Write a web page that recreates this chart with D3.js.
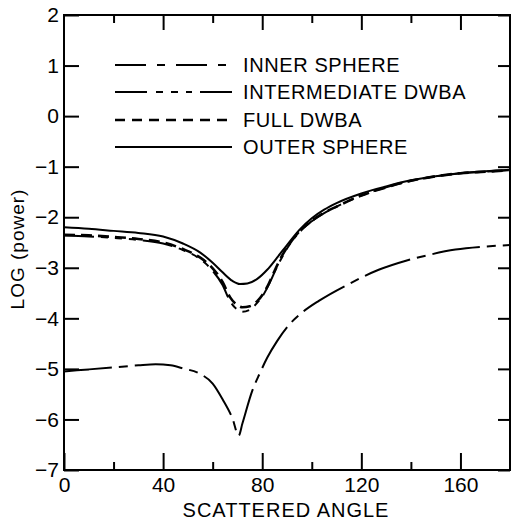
<!DOCTYPE html>
<html>
<head>
<meta charset="utf-8">
<script src="https://cdn.jsdelivr.net/npm/d3@7"></script>
<style>
  body { margin: 0; background: #fff; }
  svg { display: block; font-family: "Liberation Sans", Arial, sans-serif; }
</style>
</head>
<body>
<svg></svg>
<script>
// values
const outerAngle = [0, 10, 20, 30, 40, 48, 55, 60, 64, 68, 71, 74, 78, 82, 86, 90, 95, 100, 105, 110, 120, 130, 140, 150, 160, 170, 180]
const outerLog   = [-2.20, -2.23, -2.27, -2.31, -2.38, -2.52, -2.70, -2.90, -3.09, -3.26, -3.32, -3.31, -3.22, -3.04, -2.80, -2.55, -2.25, -2.02, -1.85, -1.72, -1.53, -1.39, -1.27, -1.19, -1.13, -1.09, -1.06]

const fullAngle = [0, 10, 20, 30, 40, 48, 55, 60, 64, 67, 70, 72, 75, 78, 82, 85, 88, 92, 96, 100, 105, 110, 120, 130, 140, 150, 160, 170, 180]
const fullLog   = [-2.35, -2.36, -2.39, -2.43, -2.50, -2.63, -2.80, -3.01, -3.28, -3.58, -3.74, -3.78, -3.76, -3.66, -3.38, -3.06, -2.76, -2.46, -2.24, -2.07, -1.91, -1.79, -1.57, -1.41, -1.28, -1.19, -1.13, -1.10, -1.07]

const interAngle = [0, 10, 20, 30, 40, 48, 55, 60, 64, 67, 70, 72, 75, 78, 80, 83, 86, 90, 95, 100, 105, 110, 120, 130, 140, 150, 160, 170, 180]
const interLog   = [-2.36, -2.38, -2.41, -2.45, -2.52, -2.65, -2.83, -3.06, -3.34, -3.66, -3.83, -3.87, -3.83, -3.69, -3.57, -3.30, -2.98, -2.62, -2.29, -2.08, -1.92, -1.79, -1.57, -1.41, -1.28, -1.19, -1.13, -1.10, -1.07]

const innerAngle = [0, 10, 20, 30, 37, 43, 48, 55, 60, 64, 68, 70.5, 72, 76, 79, 82, 86, 91, 96, 103, 115, 127, 138, 146, 158, 170, 180]
const innerLog   = [-5.05, -5.01, -4.97, -4.93, -4.91, -4.93, -4.99, -5.10, -5.29, -5.60, -5.98, -6.32, -6.08, -5.43, -5.09, -4.78, -4.45, -4.12, -3.89, -3.65, -3.32, -3.04, -2.86, -2.76, -2.64, -2.58, -2.55]

const legendLabels = ["INNER SPHERE", "INTERMEDIATE DWBA", "FULL DWBA", "OUTER SPHERE"]

const xMajor = [0, 40, 80, 120, 160]
const xMinor = [20, 60, 100, 140]
const yTicks = [2, 1, 0, -1, -2, -3, -4, -5, -6, -7]

let width = 512
let height = 523
let margin = {top: 15, right: 2, bottom: 53, left: 64}

let svg = d3.select("svg").attr("width", width).attr("height", height)

let xScale = d3.scaleLinear().domain([0, 180]).range([margin.left, width - margin.right])
let yScale = d3.scaleLinear().domain([-7, 2]).range([height - margin.bottom, margin.top])

const fmt = d => d < 0 ? "\u2212" + Math.abs(d) : String(d)

// axes, ticks all point inward
const drawAxes = () => {
    svg.append("g")
        .attr("transform", "translate(0," + yScale(-7) + ")")
        .call(d3.axisBottom(xScale).tickValues(xMajor).tickSizeInner(-17).tickSizeOuter(0).tickPadding(7).tickFormat(d => d))
    svg.append("g")
        .attr("transform", "translate(0," + yScale(-7) + ")")
        .call(d3.axisBottom(xScale).tickValues(xMinor).tickSizeInner(-8).tickSizeOuter(0).tickFormat(""))

    svg.append("g")
        .attr("transform", "translate(0," + yScale(2) + ")")
        .call(d3.axisTop(xScale).tickValues(xMajor.slice(1)).tickSizeInner(-15).tickSizeOuter(0).tickFormat(""))
    svg.append("g")
        .attr("transform", "translate(0," + yScale(2) + ")")
        .call(d3.axisTop(xScale).tickValues(xMinor).tickSizeInner(-8).tickSizeOuter(0).tickFormat(""))

    svg.append("g")
        .attr("transform", "translate(" + xScale(0) + ",0)")
        .call(d3.axisLeft(yScale).tickValues(yTicks).tickSizeInner(-15).tickSizeOuter(0).tickPadding(5).tickFormat(fmt))

    svg.append("g")
        .attr("transform", "translate(" + xScale(180) + ",0)")
        .call(d3.axisRight(yScale).tickValues(yTicks).tickSizeInner(-12).tickSizeOuter(0).tickFormat(""))

    svg.selectAll(".domain").remove()
    svg.selectAll(".tick line").attr("stroke", "#000").attr("stroke-width", 2)
    svg.selectAll(".tick text")
        .attr("fill", "#000")
        .style("font-size", "21px")
        .style("font-family", "'Liberation Sans', Arial, sans-serif")

    // frame
    svg.append("rect")
        .attr("x", xScale(0))
        .attr("y", yScale(2))
        .attr("width", xScale(180) - xScale(0))
        .attr("height", yScale(-7) - yScale(2))
        .attr("fill", "none")
        .attr("stroke", "#000")
        .attr("stroke-width", 2)

    svg.append("text")
        .attr("x", 286)
        .attr("y", 517)
        .attr("text-anchor", "middle")
        .style("font-size", "20px")
        .style("letter-spacing", "1px")
        .text("SCATTERED ANGLE")

    svg.append("text")
        .attr("transform", "translate(24,249) rotate(-90)")
        .attr("text-anchor", "middle")
        .style("font-size", "19px")
        .style("letter-spacing", "1px")
        .text("LOG (power)")
}

const styles = [
    {angle: innerAngle, vals: innerLog, dash: "48,7,9,7", legendDash: "31,11,8,11", w: 2},
    {angle: interAngle, vals: interLog, dash: "30,7,7,7,7,7,7,7", legendDash: "32,9,7,8,7,8,6,8", w: 2},
    {angle: fullAngle, vals: fullLog, dash: "11,6", legendDash: "10,7", w: 2.6},
    {angle: outerAngle, vals: outerLog, dash: null, legendDash: null, w: 2}
]

const drawCurves = () => {
    let line = d3.line()
        .x(d => xScale(d[0]))
        .y(d => yScale(d[1]))
        .curve(d3.curveMonotoneX)

    styles.forEach(s => {
        svg.append("path")
            .datum(d3.zip(s.angle, s.vals))
            .attr("d", line)
            .attr("fill", "none")
            .attr("stroke", "#000")
            .attr("stroke-width", s.w)
            .attr("stroke-dasharray", s.dash)
    })
}

const drawLegend = () => {
    let rowY = [65, 92, 120, 147]
    let g = svg.append("g")
    legendLabels.forEach((lab, i) => {
        g.append("line")
            .attr("x1", 115).attr("x2", 232)
            .attr("y1", rowY[i]).attr("y2", rowY[i])
            .attr("stroke", "#000")
            .attr("stroke-width", styles[i].w)
            .attr("stroke-dasharray", styles[i].legendDash)
        g.append("text")
            .attr("x", 243)
            .attr("y", rowY[i] + 7)
            .style("font-size", "20px")
            .style("letter-spacing", "0.6px")
            .text(lab)
    })
}

drawAxes()
drawCurves()
drawLegend()
</script>
</body>
</html>
